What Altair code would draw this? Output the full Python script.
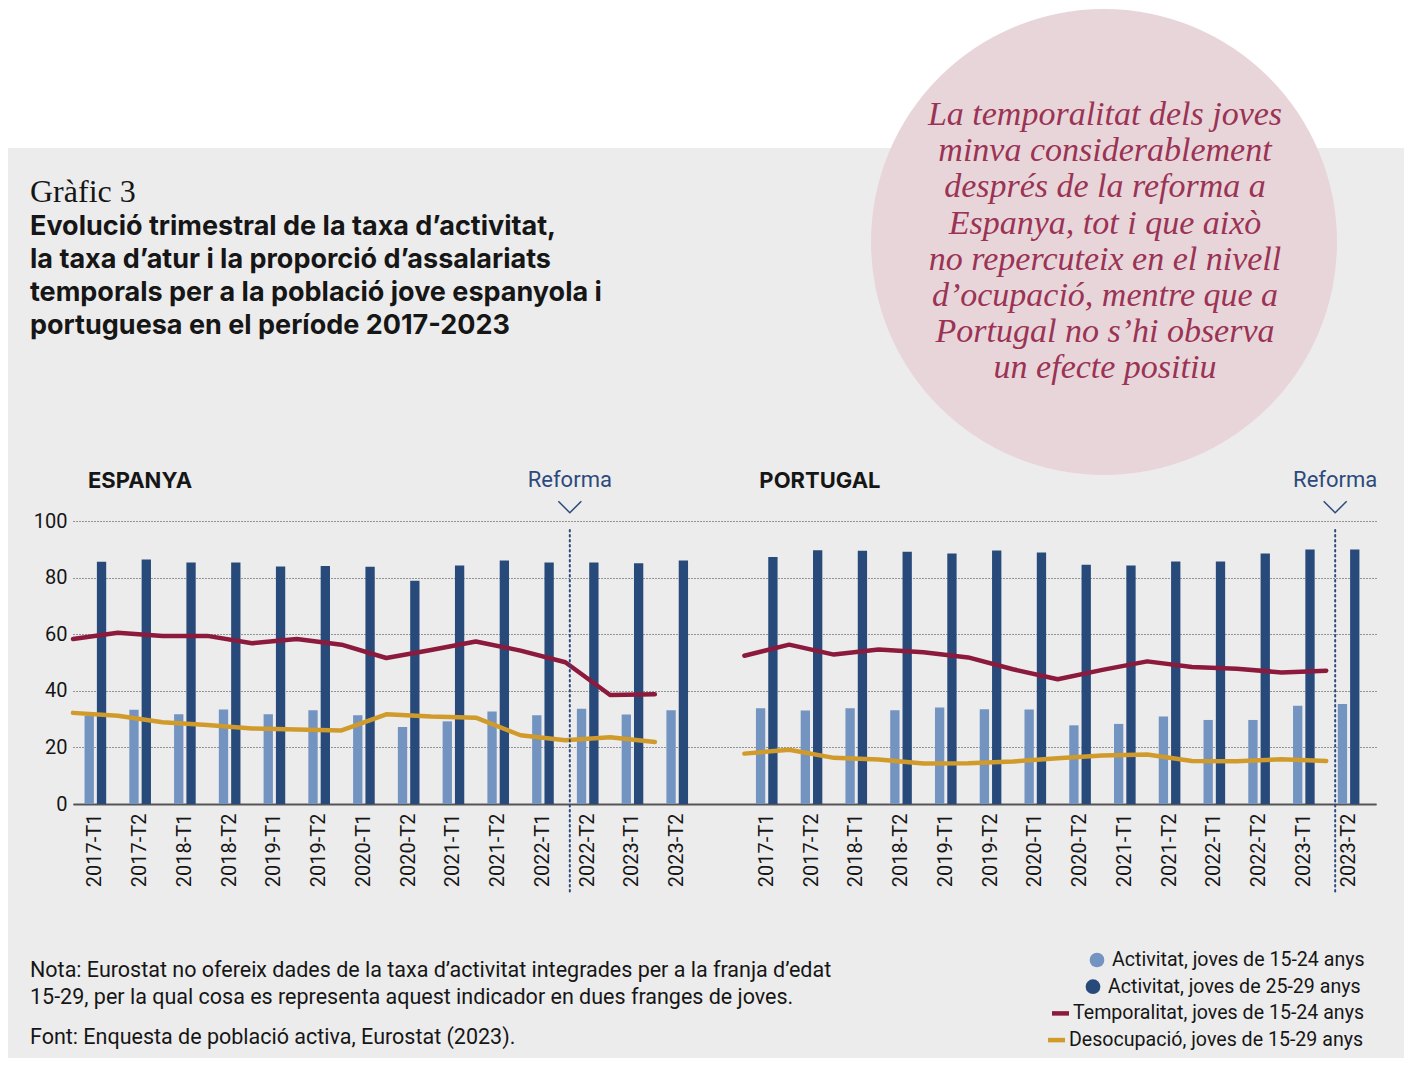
import altair as alt
import pandas as pd

# ---------------- data ----------------
periods = ["2017-T1", "2017-T2", "2018-T1", "2018-T2", "2019-T1", "2019-T2", "2020-T1",
           "2020-T2", "2021-T1", "2021-T2", "2022-T1", "2022-T2", "2023-T1", "2023-T2"]

es_act_15_24 = [31.1, 33.3, 31.7, 33.4, 31.7, 33.1, 31.4, 27.2, 29.2, 32.7, 31.4, 33.7, 31.6, 33.1]
es_act_25_29 = [85.6, 86.4, 85.3, 85.3, 83.9, 84.1, 83.8, 78.9, 84.3, 86.0, 85.3, 85.3, 85.1, 86.0]
es_temporalitat = [58.3, 60.5, 59.4, 59.4, 56.8, 58.3, 56.3, 51.6, 54.4, 57.4, 54.2, 50.1, 38.5, 38.8]
es_desocupacio = [32.2, 31.2, 28.9, 27.9, 26.7, 26.3, 26.0, 31.7, 30.9, 30.5, 24.3, 22.5, 23.6, 21.9]

pt_act_15_24 = [33.8, 33.0, 33.8, 33.1, 34.1, 33.5, 33.4, 27.8, 28.3, 30.9, 29.7, 29.7, 34.7, 35.3]
pt_act_25_29 = [87.3, 89.7, 89.5, 89.1, 88.5, 89.6, 88.9, 84.5, 84.3, 85.7, 85.7, 88.5, 89.9, 89.9]
pt_temporalitat = [52.4, 56.3, 52.8, 54.6, 53.6, 51.8, 47.6, 44.1, 47.4, 50.4, 48.4, 47.8, 46.5, 47.1]
pt_desocupacio = [17.8, 19.2, 16.3, 15.7, 14.3, 14.4, 15.0, 16.2, 17.1, 17.5, 15.2, 15.1, 15.8, 15.2]

series_names = ["Activitat, joves de 15-24 anys", "Activitat, joves de 25-29 anys",
                "Temporalitat, joves de 15-24 anys", "Desocupació, joves de 15-29 anys"]
series_colors = ["#7393c0", "#284a7a", "#8c1a3d", "#d19b2c"]

country_codes = ["ES", "PT"]
country_names = ["ESPANYA", "PORTUGAL"]
reforma_periods = ["2022-T2", "2023-T2"]

title_small = "Gràfic 3"
title_lines = ["Evolució trimestral de la taxa d’activitat,",
               "la taxa d’atur i la proporció d’assalariats",
               "temporals per a la població jove espanyola i",
               "portuguesa en el període 2017-2023"]
callout_lines = ["La temporalitat dels joves", "minva considerablement",
                 "després de la reforma a", "Espanya, tot i que això",
                 "no repercuteix en el nivell", "d’ocupació, mentre que a",
                 "Portugal no s’hi observa", "un efecte positiu"]
note_lines = ["Nota: Eurostat no ofereix dades de la taxa d’activitat integrades per a la franja d’edat",
              "15-29, per la qual cosa es representa aquest indicador en dues franges de joves."]
source_line = "Font: Enquesta de població activa, Eurostat (2023)."

# ---------------- tables ----------------
keys = [f"ES|{p}" for p in periods] + ["gap"] + [f"PT|{p}" for p in periods]

values = {
    "ES": [es_act_15_24, es_act_25_29, es_temporalitat, es_desocupacio],
    "PT": [pt_act_15_24, pt_act_25_29, pt_temporalitat, pt_desocupacio],
}
bar_rows, line_rows = [], []
for code in country_codes:
    for s_i, arr in enumerate(values[code]):
        for i, p in enumerate(periods):
            row = {"key": f"{code}|{p}", "series": series_names[s_i], "value": arr[i],
                   "country": code, "idx": i}
            (bar_rows if s_i < 2 else line_rows).append(row)
bars_df = pd.DataFrame(bar_rows)
lines_df = pd.DataFrame(line_rows)
panels_df = pd.DataFrame({"key": [f"{c}|{periods[0]}" for c in country_codes], "label": country_names})
one = pd.DataFrame({"k": [0]})

# ---------------- style ----------------
SANS = "Roboto"
BOLD = "Inter"
SERIF = "Liberation Serif"
TXT = "#161616"
BLUE_TXT = "#2c4a7c"
W, H = 1303, 283
PAD = {"left": 65, "top": 513, "right": 28, "bottom": 254}
REFORMA_BAND_POS = [0.1, 0.2]

x_scale = alt.Scale(domain=keys, paddingInner=0, paddingOuter=0.056, align=0)
x_axis = alt.Axis(title=None, labelAngle=-90,
                  labelExpr="indexof(datum.label, '|') >= 0 ? split(datum.label, '|')[1] : ''",
                  ticks=False, domainColor="#555555", domainWidth=2, grid=False,
                  labelFont=SANS, labelFontSize=20, labelColor=TXT, labelPadding=9,
                  labelOverlap=False)
y_scale = alt.Scale(domain=[0, 100], nice=False)
y_axis = alt.Axis(title=None, values=[0, 20, 40, 60, 80, 100], grid=True, gridDash=[1, 2],
                  gridColor="#3a3a3a", gridWidth=1, domain=False, ticks=False,
                  labelFont=SANS, labelFontSize=20, labelColor=TXT, labelPadding=6)
color_enc = alt.Color("series:N", scale=alt.Scale(domain=series_names, range=series_colors), legend=None)


def xk(band_pos=None):
    if band_pos is None:
        return alt.X("key:N", scale=x_scale, sort=keys, axis=x_axis)
    return alt.X("key:N", scale=x_scale, sort=keys, axis=x_axis, bandPosition=band_pos)


yv = alt.Y("value:Q", scale=y_scale, axis=y_axis)

# ---------------- layers ----------------
white_band = alt.Chart(one).mark_rect(color="#ffffff").encode(
    x=alt.value(-70), x2=alt.value(W + 40), y=alt.value(-530), y2=alt.value(-373))

circle = alt.Chart(one).mark_point(shape="circle", filled=True, size=466 * 466,
                                   color="#e8d5da", opacity=1).encode(
    x=alt.value(1031), y=alt.value(-279))

callout = alt.Chart(one).mark_text(text=callout_lines, align="center", baseline="middle",
                                   font=SERIF, fontStyle="italic", fontSize=34, lineHeight=36.2,
                                   color="#9a3354").encode(x=alt.value(1032), y=alt.value(-406))

t_small = alt.Chart(one).mark_text(text=title_small, align="left", baseline="alphabetic",
                                   font=SERIF, fontSize=32, color=TXT).encode(
    x=alt.value(-43), y=alt.value(-319))
t_main = alt.Chart(one).mark_text(text=title_lines, align="left", baseline="alphabetic",
                                  font=BOLD, fontWeight="bold", fontSize=27, lineHeight=33,
                                  color=TXT).encode(x=alt.value(-43), y=alt.value(-286))

bars = alt.Chart(bars_df).mark_bar().encode(
    x=xk(),
    xOffset=alt.XOffset("series:N", sort=series_names[:2],
                        scale=alt.Scale(domain=series_names[:2], paddingInner=0.244, paddingOuter=0.939)),
    y=yv,
    color=color_enc,
)

lines = alt.Chart(lines_df).mark_line(strokeWidth=4.5, strokeCap="round", strokeJoin="round").encode(
    x=xk(0), y=yv, color=color_enc, detail="country:N", order="idx:Q")

reforma_layers = []
for code, per, bp in zip(country_codes, reforma_periods, REFORMA_BAND_POS):
    rdf = pd.DataFrame({"key": [f"{code}|{per}"], "label": ["Reforma"]})
    reforma_layers.append(alt.Chart(rdf).mark_rule(color=BLUE_TXT, strokeWidth=2, strokeDash=[1.5, 3.5],
                                                   strokeCap="round").encode(
        x=xk(bp), y=alt.value(9), y2=alt.value(374)))
    reforma_layers.append(alt.Chart(rdf).mark_point(shape="M-1,-0.5L0,0.5L1,-0.5", filled=False, size=529,
                                                    strokeWidth=1.5, color=BLUE_TXT, opacity=1).encode(
        x=xk(bp), y=alt.value(-14)))
    reforma_layers.append(alt.Chart(rdf).mark_text(font=SANS, fontSize=22, color=BLUE_TXT,
                                                   align="center", baseline="middle").encode(
        x=xk(bp), y=alt.value(-41), text="label:N"))

panel_text = alt.Chart(panels_df).mark_text(font=BOLD, fontWeight="bold", fontSize=22, color=TXT,
                                            align="left", baseline="middle", dx=15).encode(
    x=xk(0), y=alt.value(-40), text="label:N")

notes = alt.Chart(one).mark_text(text=note_lines, align="left", baseline="alphabetic", font=SANS,
                                 fontSize=21.5, lineHeight=27, color=TXT).encode(
    x=alt.value(-43), y=alt.value(456))
source = alt.Chart(one).mark_text(text=source_line, align="left", baseline="alphabetic", font=SANS,
                                  fontSize=21.5, color=TXT).encode(x=alt.value(-43), y=alt.value(523))

# legend (manual, right block)
legend_text_x = [1039, 1035, 1000, 996]
legend_y0, legend_dy = 439, 26.7
legend_layers = []
for i, (lab, col) in enumerate(zip(series_names, series_colors)):
    yy = legend_y0 + i * legend_dy
    legend_layers.append(alt.Chart(one).mark_text(text=lab, align="left", baseline="middle", font=SANS,
                                                  fontSize=19.6, color=TXT).encode(
        x=alt.value(legend_text_x[i]), y=alt.value(yy)))
    if i < 2:
        legend_layers.append(alt.Chart(one).mark_point(shape="circle", filled=True, size=216,
                                                       color=col, opacity=1).encode(
            x=alt.value(legend_text_x[i] - 15), y=alt.value(yy)))
    else:
        legend_layers.append(alt.Chart(one).mark_rule(color=col, strokeWidth=4.5).encode(
            x=alt.value(legend_text_x[i] - 21), x2=alt.value(legend_text_x[i] - 4), y=alt.value(yy)))

chart = alt.layer(
    white_band, circle, callout, t_small, t_main,
    bars, lines, *reforma_layers, panel_text, notes, source, *legend_layers
).properties(
    width=W, height=H,
    padding=PAD,
    autosize=alt.AutoSizeParams(type="none"),
    background="#ececec",
).configure_view(strokeWidth=0)

chart.save("out.html", embed_options={"renderer": "svg", "actions": False})
